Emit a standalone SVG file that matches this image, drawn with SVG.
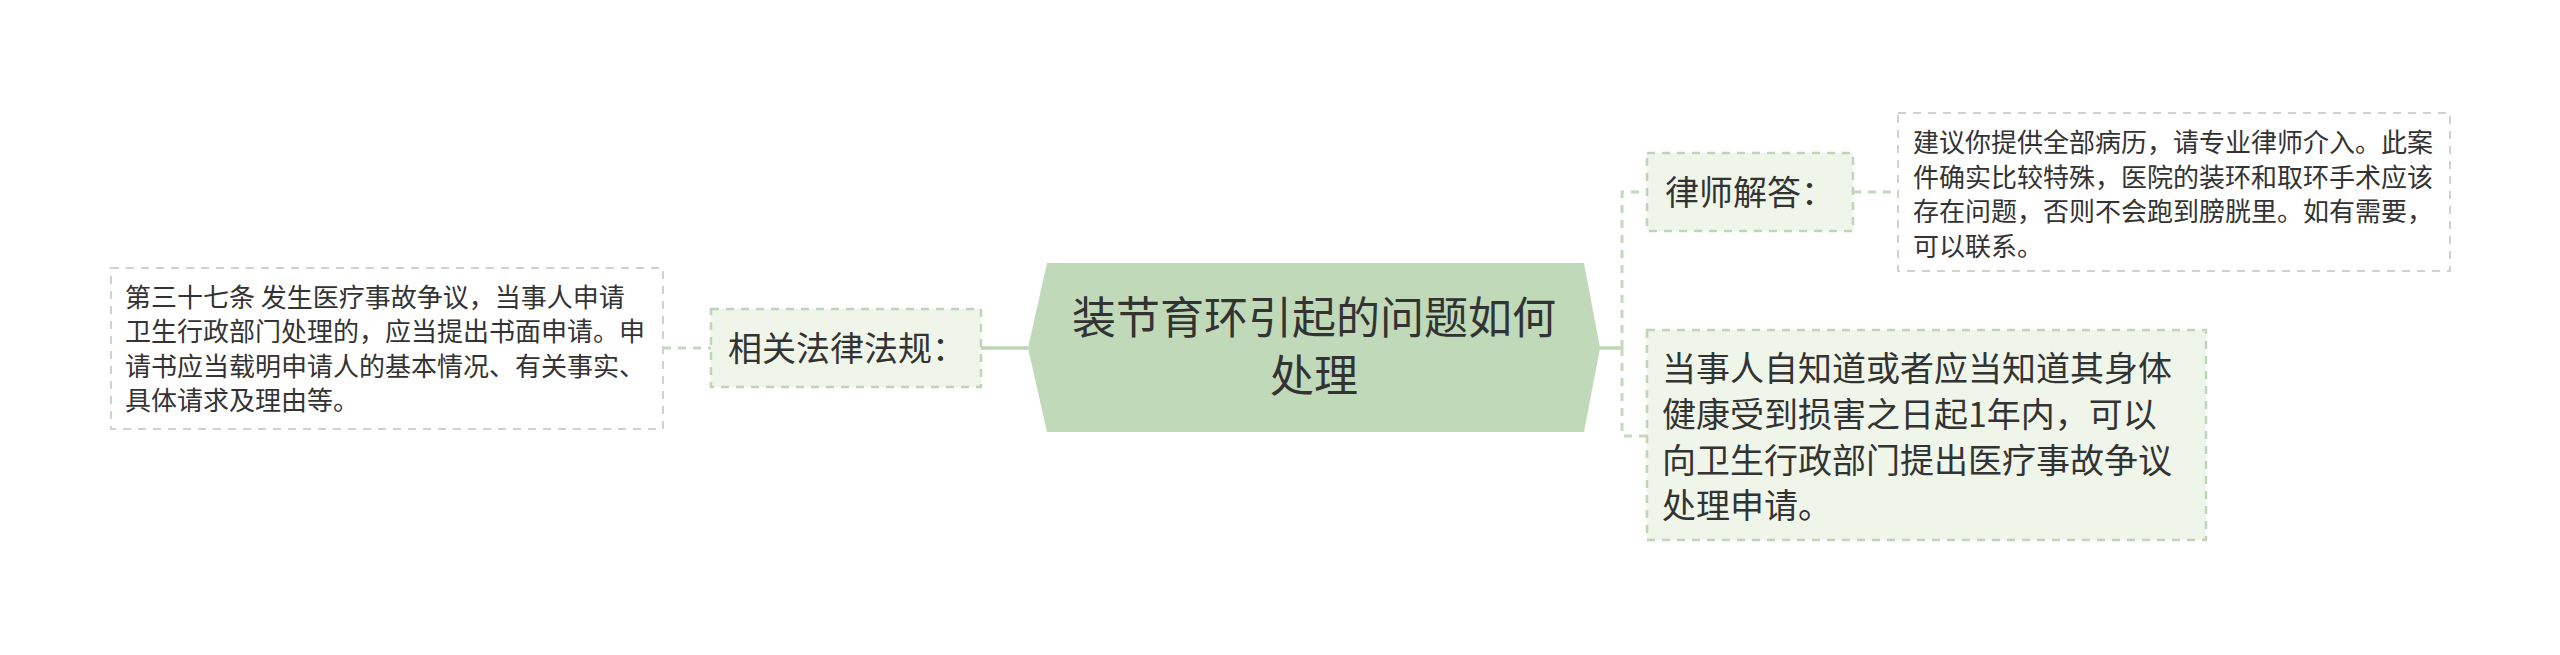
<svg xmlns="http://www.w3.org/2000/svg" width="2560" height="655" viewBox="0 0 2560 655">
<style>
text{font-family:"Noto Sans CJK SC","Noto Sans",sans-serif;fill:#333333;}
.c{font-size:44px;}
.l1{font-size:34px;}
.lf{font-size:26px;}
.b1{fill:#eff6e9;stroke:#bfd4b8;stroke-width:2.5;stroke-dasharray:8 7;}
.bl{fill:#ffffff;stroke:#cfd3cc;stroke-width:2;stroke-dasharray:8 7;}
.solid{fill:none;stroke:#bcd6b3;stroke-width:3.5;}
.dash{fill:none;stroke:#c4d8bd;stroke-width:3;stroke-dasharray:8 7;}
</style>
<rect width="2560" height="655" fill="#ffffff"/>
<g id="connectors">
<path class="solid" d="M981 348 H1028"/>
<path class="dash" d="M663 348 H711"/>
<path class="solid" d="M1598 348 H1622"/>
<path class="dash" d="M1622 348 V192 H1647"/>
<path class="dash" d="M1622 348 V436 H1647"/>
<path class="dash" d="M1853 192 H1898"/>
</g>
<g id="center">
<polygon points="1047,263 1584,263 1600,348 1584,432 1047,432 1028,348" fill="#c0dab9"/>
<text class="c" x="1314" y="334" text-anchor="middle">装节育环引起的问题如何</text>
<text class="c" x="1314" y="392" text-anchor="middle">处理</text>
</g>
<g id="node-lawyer">
<rect class="b1" x="1647" y="153" width="206" height="78"/>
<text class="l1" x="1665" y="205">律师解答：</text>
</g>
<g id="node-lawyer-answer">
<rect class="bl" x="1898" y="113" width="552" height="158"/>
<text class="lf" x="1913" y="152">建议你提供全部病历，请专业律师介入。此案</text>
<text class="lf" x="1913" y="187">件确实比较特殊，医院的装环和取环手术应该</text>
<text class="lf" x="1913" y="221">存在问题，否则不会跑到膀胱里。如有需要，</text>
<text class="lf" x="1913" y="256">可以联系。</text>
</g>
<g id="node-time">
<rect class="b1" x="1647" y="330" width="559" height="210"/>
<text class="l1" x="1662" y="381">当事人自知道或者应当知道其身体</text>
<text class="l1" x="1662" y="427">健康受到损害之日起1年内，可以</text>
<text class="l1" x="1662" y="473">向卫生行政部门提出医疗事故争议</text>
<text class="l1" x="1662" y="518">处理申请。</text>
</g>
<g id="node-law">
<rect class="b1" x="711" y="309" width="270" height="78"/>
<text class="l1" x="728" y="361">相关法律法规：</text>
</g>
<g id="node-law-text">
<rect class="bl" x="111" y="268" width="552" height="161"/>
<text class="lf" x="125" y="307">第三十七条 发生医疗事故争议，当事人申请</text>
<text class="lf" x="125" y="341">卫生行政部门处理的，应当提出书面申请。申</text>
<text class="lf" x="125" y="376">请书应当载明申请人的基本情况、有关事实、</text>
<text class="lf" x="125" y="410">具体请求及理由等。</text>
</g>
</svg>
